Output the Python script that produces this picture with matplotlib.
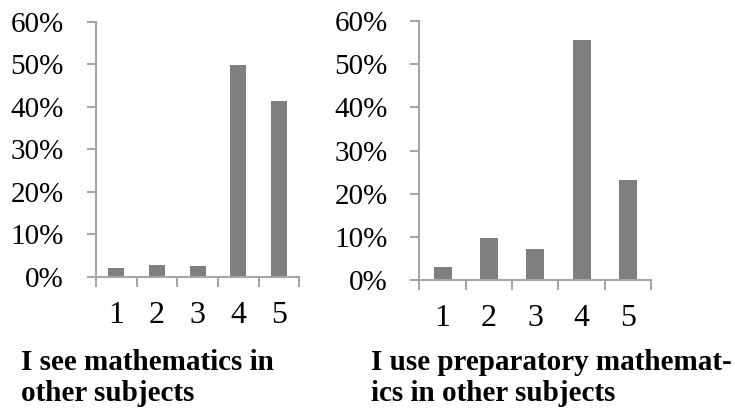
import matplotlib
matplotlib.use("Agg")
import matplotlib.pyplot as plt
from matplotlib.ticker import FixedLocator, PercentFormatter

plt.rcParams["font.family"] = ["Liberation Serif", "DejaVu Serif"]

ratings = [1, 2, 3, 4, 5]
see_math = [0.020, 0.028, 0.025, 0.499, 0.415]
use_prep_math = [0.031, 0.097, 0.072, 0.556, 0.231]
titles = ["I see mathematics in\nother subjects",
          "I use preparatory mathemat-\nics in other subjects"]

bar_color = "#7f7f7f"
axis_color = "#a6a6a6"


def draw_panel(ax, values):
    ax.bar(ratings, values, width=0.39, color=bar_color)
    ax.set_xlim(0.5, 5.5)
    ax.set_ylim(0, 0.6)
    for side in ("top", "right"):
        ax.spines[side].set_visible(False)
    for side in ("left", "bottom"):
        ax.spines[side].set_color(axis_color)
        ax.spines[side].set_linewidth(1.5)

    ax.set_yticks([0, 0.1, 0.2, 0.3, 0.4, 0.5, 0.6])
    ax.yaxis.set_major_formatter(PercentFormatter(1.0, decimals=0))
    ax.tick_params(axis="y", direction="out", length=6.5, width=1.5,
                   color=axis_color, labelsize=21, pad=16.5)

    # category boundaries get the tick marks, centres get the labels
    ax.xaxis.set_major_locator(FixedLocator([0.5, 1.5, 2.5, 3.5, 4.5, 5.5]))
    ax.xaxis.set_minor_locator(FixedLocator(ratings))
    ax.set_xticklabels([], minor=False)
    ax.set_xticklabels([str(r) for r in ratings], minor=True)
    ax.tick_params(axis="x", which="major", direction="out", length=7,
                   width=1.5, color=axis_color)
    ax.tick_params(axis="x", which="minor", length=0, labelsize=23, pad=17.5)


fig = plt.figure(figsize=(7.35, 4.12), dpi=100)
ax1 = fig.add_axes([0.1306, 0.3284, 0.2766, 0.6182])
ax2 = fig.add_axes([0.5707, 0.3204, 0.3150, 0.6286])
draw_panel(ax1, see_math)
draw_panel(ax2, use_prep_math)

# baseline of the last line of each caption
cap_y = 1 - 400.7 / 412
fig.text(20.7 / 735, cap_y, titles[0], fontsize=21,
         fontweight="bold", va="baseline", ha="left", linespacing=1.2)
fig.text(371 / 735, cap_y, titles[1], fontsize=21,
         fontweight="bold", va="baseline", ha="left", linespacing=1.2)

fig.savefig("out.png", dpi=100)
